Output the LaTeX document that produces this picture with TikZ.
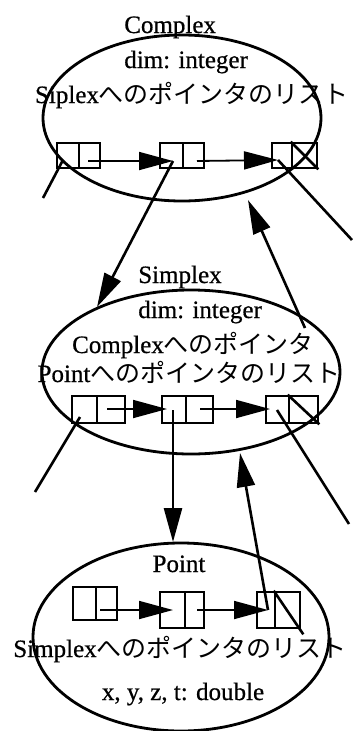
\documentclass[tikz,border=0pt]{standalone}
\usepackage{fontspec}
\setmainfont[FakeBold=0.6]{Liberation Serif}
\newfontfamily\jp{Noto Sans CJK JP}
\usetikzlibrary{arrows.meta,shapes.geometric,calc}
\begin{document}
\begin{tikzpicture}[x=1pt,y=-1pt, line width=2.6pt,
  cls/.style={draw, ellipse, line width=2.8pt, inner sep=0pt},
  cell/.style={draw, rectangle, inner sep=0pt, line width=2.6pt},
  lbl/.style={anchor=base, inner sep=0pt, font=\fontsize{25}{30}\selectfont},
  ptr/.style={-{Triangle[length=34pt,width=18pt]}, line width=2.6pt},
  link/.style={-{Triangle[length=34pt,width=18pt]}, line width=1.8pt},
  dang/.style={line width=2.6pt}]
\useasboundingbox (0,0) rectangle (355,731);

% class ellipses
\node[cls, minimum width=278pt, minimum height=166pt] (complex) at (182,118) {};
\node[cls, minimum width=298pt, minimum height=164pt] (simplex) at (191,372) {};
\node[cls, minimum width=296pt, minimum height=188pt] (point) at (181,637) {};

% texts: Complex
\node[lbl, anchor=base west] (t1) at (123,33) {Complex};
\node[lbl, anchor=base west] (t2) at (123,68) {dim: integer};
\node[lbl] (t3) at (192,103) {Siplex{\jp へのポインタのリスト}};
% texts: Simplex
\node[lbl, anchor=base west] (t4) at (137,283) {Simplex};
\node[lbl, anchor=base west] (t5) at (137,318) {dim: integer};
\node[lbl] (t6) at (193,353) {Complex{\jp へのポインタ}};
\node[lbl] (t7) at (189,382) {Point{\jp へのポインタのリスト}};
% texts: Point
\node[lbl] (t8) at (179,572) {Point};
\node[lbl] (t9) at (180,657) {Simplex{\jp へのポインタのリスト}};
\node[lbl] (t10) at (183,700) {x, y, z, t: double};

% row 1 cells
\node[cell, minimum width=22pt, minimum height=25pt] (a1l) at (68,155.5) {};
\node[cell, minimum width=21pt, minimum height=25pt] (a1r) at (89.5,155.5) {};
\node[cell, minimum width=23pt, minimum height=25pt] (a2l) at (171.5,155.5) {};
\node[cell, minimum width=21pt, minimum height=25pt] (a2r) at (193.5,155.5) {};
\node[cell, minimum width=20pt, minimum height=25pt] (a3l) at (282,155.5) {};
\node[cell, minimum width=25pt, minimum height=25pt] (a3r) at (304.5,155.5) {};
\draw (a3r.north west) -- (a3r.south east);

% row 2 cells
\node[cell, minimum width=25pt, minimum height=27pt] (b1l) at (84.5,409.5) {};
\node[cell, minimum width=28pt, minimum height=27pt] (b1r) at (111,409.5) {};
\node[cell, minimum width=24pt, minimum height=27pt] (b2l) at (174,409.5) {};
\node[cell, minimum width=27pt, minimum height=27pt] (b2r) at (199.5,409.5) {};
\node[cell, minimum width=23pt, minimum height=27pt] (b3l) at (277.5,409.5) {};
\node[cell, minimum width=29pt, minimum height=27pt] (b3r) at (303.5,409.5) {};
\draw (b3r.north west) -- (b3r.south east);

% row 3 cells
\node[cell, minimum width=23pt, minimum height=33pt] (c1l) at (84.5,603.5) {};
\node[cell, minimum width=21pt, minimum height=33pt] (c1r) at (106.5,603.5) {};
\node[cell, minimum width=25pt, minimum height=36pt] (c2l) at (172.5,610) {};
\node[cell, minimum width=19pt, minimum height=36pt] (c2r) at (194.5,610) {};
\node[cell, minimum width=18pt, minimum height=36pt] (c3l) at (266,610) {};
\node[cell, minimum width=25pt, minimum height=36pt] (c3r) at (287.5,610) {};
\draw (c3r.north west) -- ($(c3r.south east)+(2,5)$);

% connector end points
\coordinate (a1rt) at (88,161);
\coordinate (a2lh) at (173,161);
\coordinate (a2rt) at (197,161);
\coordinate (a3lh) at (278,160);
\coordinate (a1lt) at (63,160);
\coordinate (a1end) at (43,198);
\coordinate (a3end) at (352,240);
\coordinate (simtop) at (97,307);
\coordinate (cptr) at (305,328);
\coordinate (cbot) at (248,200);
\coordinate (b1rt) at (107,409);
\coordinate (b2lh) at (167,409);
\coordinate (b2rt) at (200,409);
\coordinate (b3lh) at (270,409);
\coordinate (b1lt) at (80,417);
\coordinate (b1end) at (35,492);
\coordinate (b2lt) at (173,410);
\coordinate (ptop) at (173,542);
\coordinate (b3lt) at (277,410);
\coordinate (b3end) at (349,524);
\coordinate (sbot) at (240,453);
\coordinate (c1rt) at (100,610);
\coordinate (c2lh) at (173,610);
\coordinate (c2rt) at (197,610);
\coordinate (c3lh) at (268,610);

% list links
\draw[link] (a1rt) -- (a2lh);
\draw[link] (a2rt) -- (a3lh);
\draw[link] (b1rt) -- (b2lh);
\draw[link] (b2rt) -- (b3lh);
\draw[link] (c1rt) -- (c2lh);
\draw[link] (c2rt) -- (c3lh);

% pointers
\draw[dang] (a1lt) -- (a1end);
\draw[dang] (a3lh) -- (a3end);
\draw[ptr] (a2lh) -- (simtop);
\draw[ptr] (cptr) -- (cbot);
\draw[dang] (b1lt) -- (b1end);
\draw[ptr] (b2lt) -- (ptop);
\draw[dang] (b3lt) -- (b3end);
\draw[ptr] (c3lh) -- (sbot);
\end{tikzpicture}
\end{document}
